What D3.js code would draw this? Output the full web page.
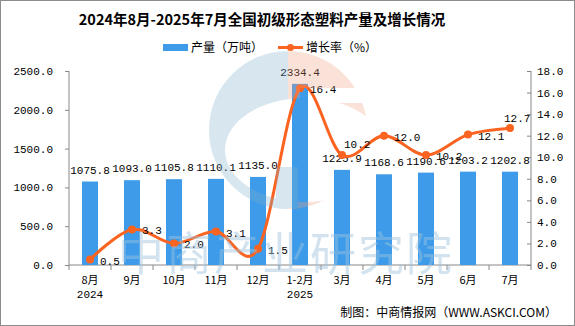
<!DOCTYPE html>
<html><head><meta charset="utf-8">
<script src="https://cdn.jsdelivr.net/npm/d3@7"></script>
<style>body{margin:0;background:#fff}svg{display:block}</style>
</head><body>
<script>
const categories = ["8月","9月","10月","11月","12月","1-2月","3月","4月","5月","6月","7月"];
const subLabels = ["2024","","","","","2025","","","","",""];
const production = [1075.8,1093.0,1105.8,1110.1,1135.0,2334.4,1225.9,1168.6,1190.6,1203.2,1202.8];
const growth = [0.5,3.3,2.0,3.1,1.5,16.4,10.2,12.0,10.2,12.1,12.7];
const leftTicks = [0,500,1000,1500,2000,2500];
const rightTicks = [0,2,4,6,8,10,12,14,16,18];

const W=575,H=326;
const svg=d3.select("body").append("svg").attr("width",W).attr("height",H);
const numFont='"Liberation Mono","Noto Sans CJK SC",monospace';
const cjkFont='"Noto Sans CJK SC",sans-serif';

svg.append("rect").attr("x",0.5).attr("y",0.5).attr("width",W-1).attr("height",H-1).attr("fill","#fff").attr("stroke","#8c8c8c");

const x=d3.scaleBand().domain(categories).range([69,531]).padding(0);
const yL=d3.scaleLinear().domain([0,2500]).range([265,71]);
const yR=d3.scaleLinear().domain([0,18]).range([265,71]);

// title
svg.append("text").attr("x",262).attr("y",25).attr("text-anchor","middle").attr("font-family",cjkFont).attr("font-weight",700).attr("font-size",14.5).attr("fill","#000").text("2024年8月-2025年7月全国初级形态塑料产量及增长情况");

// legend
svg.append("rect").attr("x",163).attr("y",44).attr("width",25).attr("height",7).attr("fill","#3d9be9");
svg.append("text").attr("x",191).attr("y",52).attr("font-family",cjkFont).attr("font-size",12).text("产量（万吨）");
svg.append("line").attr("x1",278).attr("x2",303).attr("y1",47.5).attr("y2",47.5).attr("stroke","#fb6320").attr("stroke-width",3);
svg.append("circle").attr("cx",290.5).attr("cy",47.5).attr("r",3.5).attr("fill","#fb6320");
svg.append("text").attr("x",306).attr("y",52).attr("font-family",cjkFont).attr("font-size",12).text("增长率（%）");

// axes
const axL=svg.append("g").attr("transform","translate(69,0)").call(d3.axisLeft(yL).tickValues(leftTicks).tickFormat(d3.format(".1f")).tickSize(4).tickPadding(12));
const axR=svg.append("g").attr("transform","translate(531,0)").call(d3.axisRight(yR).tickValues(rightTicks).tickFormat(d3.format(".1f")).tickSize(-4).tickPadding(6));
const axB=svg.append("g").attr("transform","translate(0,265)").call(d3.axisBottom(x).tickSize(0).tickFormat(""));
[axL,axR,axB].forEach(a=>{a.selectAll("path,line").attr("stroke","#888");a.selectAll("text").attr("font-family",numFont).attr("font-size",11).attr("fill","#000");});
axL.select(".domain").attr("d","M0,71V265");
axR.select(".domain").attr("d","M0,71V265");
axB.select(".domain").attr("d","M69,0H531");
const bounds=categories.map(c=>x(c)).concat([x.range()[1]]);
svg.append("g").selectAll("line").data(bounds).join("line").attr("x1",d=>d).attr("x2",d=>d).attr("y1",265).attr("y2",270).attr("stroke","#888");

// bars
const bw=16;
svg.append("g").selectAll("rect").data(production).join("rect")
 .attr("x",(d,i)=>x(categories[i])+x.bandwidth()/2-bw/2).attr("y",d=>yL(d))
 .attr("width",bw).attr("height",d=>yL(0)-yL(d)).attr("fill","#3d9be9");
svg.append("g").selectAll("text").data(production).join("text")
 .attr("x",(d,i)=>x(categories[i])+x.bandwidth()/2).attr("y",d=>yL(d)-8)
 .attr("text-anchor","middle").attr("font-family",numFont).attr("font-size",11).text(d=>d.toFixed(1));

// line
const pts=growth.map((d,i)=>[x(categories[i])+x.bandwidth()/2,yR(d)]);
svg.append("path").attr("d",d3.line().curve(d3.curveCatmullRom.alpha(0))(pts)).attr("fill","none").attr("stroke","#fb6320").attr("stroke-width",3);
svg.append("g").selectAll("circle").data(pts).join("circle").attr("cx",d=>d[0]).attr("cy",d=>d[1]).attr("r",4).attr("fill","#fb6320");
// label placement: right of point by default; above for 3月 and 7月 (as in reference)
const labelPos=(i)=>{
  const c=categories[i];
  if(c==="3月") return [2,-7];
  if(c==="7月") return [-6,-6];
  return [10,5];
};
svg.append("g").selectAll("text").data(growth).join("text")
 .attr("x",(d,i)=>pts[i][0]+labelPos(i)[0]).attr("y",(d,i)=>pts[i][1]+labelPos(i)[1])
 .attr("font-family",numFont).attr("font-size",11).text(d=>d.toFixed(1));

// x labels
svg.append("g").selectAll("text").data(categories).join("text")
 .attr("x",d=>x(d)+x.bandwidth()/2).attr("y",284).attr("text-anchor","middle")
 .attr("font-family",cjkFont).attr("font-size",11).text(d=>d);
svg.append("g").selectAll("text").data(subLabels).join("text")
 .attr("x",(d,i)=>x(categories[i])+x.bandwidth()/2).attr("y",298).attr("text-anchor","middle")
 .attr("font-family",numFont).attr("font-size",11).text(d=>d);

// footer
svg.append("text").attr("x",557).attr("y",317).attr("text-anchor","end").attr("font-family",cjkFont).attr("font-size",12).text("制图：中商情报网（WWW.ASKCI.COM）");

// watermark overlay
const defs=svg.append("defs");
const mask=defs.append("mask").attr("id","wmMask");
mask.append("rect").attr("x",0).attr("y",0).attr("width",W).attr("height",H).attr("fill","#fff");
mask.append("ellipse").attr("cx",305).attr("cy",150).attr("rx",80).attr("ry",52).attr("fill","#000");
mask.append("rect").attr("x",300).attr("y",88).attr("width",80).attr("height",15).attr("fill","#000");
const wm=svg.append("g").attr("opacity",0.3).attr("pointer-events","none");
const lg=wm.append("g").attr("mask","url(#wmMask)");
lg.append("path").attr("d",d3.arc()({innerRadius:0,outerRadius:79,startAngle:-Math.PI,endAngle:0})).attr("transform","translate(288,130)").attr("fill","#7fb0d0");
lg.append("path").attr("d",d3.arc()({innerRadius:0,outerRadius:79,startAngle:0,endAngle:Math.PI})).attr("transform","translate(288,130)").attr("fill","#f0a080");
wm.append("rect").attr("x",276).attr("y",167).attr("width",22).attr("height",41).attr("fill","#7fb0d0");
svg.append("text").attr("x",286).attr("y",270).attr("text-anchor","middle").attr("font-family",cjkFont).attr("font-weight",400).attr("font-size",46).attr("fill","#9cc3dd").attr("opacity",0.45).attr("letter-spacing",2).text("中商产业研究院");
</script>
</body></html>
